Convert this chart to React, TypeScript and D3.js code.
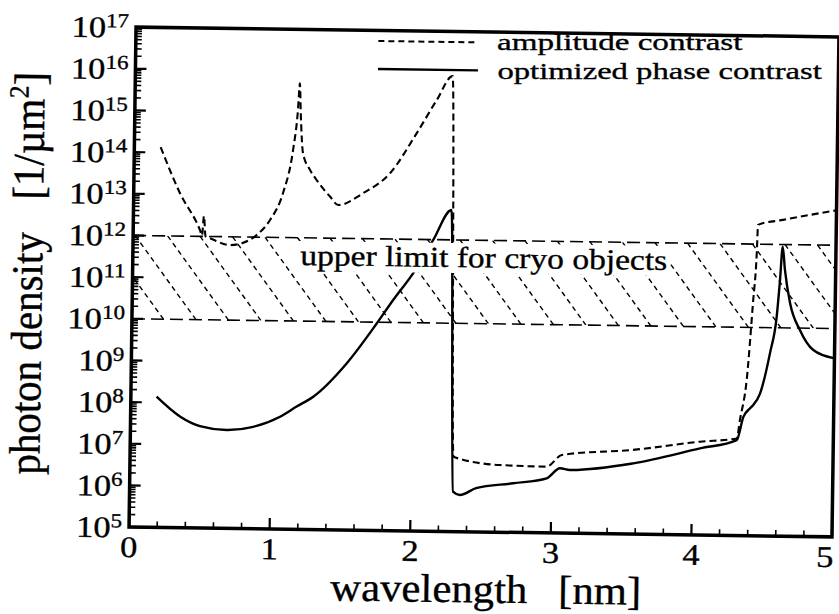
import React from 'react';
import * as d3 from 'd3';

// amplitude contrast (dashed)
const wavelengthAmp = [0.187, 0.329, 0.475, 0.49, 0.502, 0.515, 0.547, 0.69, 0.78, 0.878, 0.972, 1.062, 1.129, 1.16, 1.171, 1.18, 1.2, 1.251, 1.3, 1.396, 1.456, 1.631, 1.821, 2.006, 2.146, 2.257, 2.3, 2.347, 2.632, 2.964, 3.07, 3.576, 4.052, 4.313, 4.334, 4.378, 4.415, 4.437, 4.443, 4.62, 5.0];
const densityAmp = [1.35e14, 1.07e13, 1.41e12, 1.05e12, 3.1e12, 1.0e12, 9.1e11, 6.3e11, 7.2e11, 1.12e12, 2.6e12, 1.17e13, 1.26e14, 1.17e15, 5.1e15, 1.0e15, 1.07e14, 4.3e13, 2.45e13, 1.0e13, 6.3e12, 1.23e13, 3.8e13, 3.5e14, 2.24e15, 8.5e15, 6.3e6, 5.6e6, 4.1e6, 3.9e6, 7.5e6, 1.05e7, 1.74e7, 2.14e7, 6.0e7, 5.5e8, 3.9e10, 6.2e11, 2.9e12, 3.9e12, 6.9e12];

// optimized phase contrast (solid)
const wavelengthPhase = [0.183, 0.351, 0.494, 0.685, 0.873, 1.063, 1.18, 1.297, 1.531, 1.741, 1.857, 1.996, 2.135, 2.262, 2.3, 2.35, 2.464, 2.728, 2.965, 3.059, 3.13, 3.58, 4.053, 4.313, 4.358, 4.405, 4.427, 4.474, 4.541, 4.585, 4.605, 4.621, 4.639, 4.679, 4.752, 4.849, 4.992];
const densityPhase = [1.38e8, 4.7e7, 2.8e7, 2.3e7, 2.8e7, 5.0e7, 8.9e7, 1.55e8, 1.0e9, 9.3e9, 3.5e10, 1.55e11, 9.8e11, 5.2e12, 9.1e5, 7.6e5, 1.12e6, 1.51e6, 2.04e6, 3.6e6, 3.3e6, 5.0e6, 1.2e7, 1.95e7, 7.1e7, 1.15e8, 1.38e8, 2.6e8, 2.45e9, 1.86e10, 1.41e11, 8.9e11, 2.45e11, 3.9e10, 8.9e9, 3.0e9, 1.95e9];

const xTicks = [0, 1, 2, 3, 4, 5];
const xMinorTicks = [0.2, 0.4, 0.6, 0.8, 1.2, 1.4, 1.6, 1.8, 2.2, 2.4, 2.6, 2.8, 3.2, 3.4, 3.6, 3.8, 4.2, 4.4, 4.6, 4.8];
const yExponents = [5, 6, 7, 8, 9, 10, 11, 12, 13, 14, 15, 16, 17];
const bandLower = 1e10;
const bandUpper = 1e12;
const legendLabels = ['amplitude contrast', 'optimized phase contrast'];
const bandLabel = 'upper limit for cryo objects';
const xLabel = ['wavelength', '[nm]'];
const yLabel = ['photon density', '[1/µm', '2', ']'];

export default function App() {
  const W = 839, H = 614;
  const L = 132.5, R = 835.5, T = 32, B = 532;
  const x = d3.scaleLinear().domain([0, 5]).range([L, R]);
  const y = d3.scaleLog().domain([1e5, 1e17]).range([B, T]);
  const line = d3.line<[number, number]>().x(d => x(d[0])).y(d => y(d[1])).curve(d3.curveMonotoneX);
  const ampPath = line(wavelengthAmp.map((w, i) => [w, densityAmp[i]] as [number, number])) || '';
  const phasePath = line(wavelengthPhase.map((w, i) => [w, densityPhase[i]] as [number, number])) || '';

  const yMinor: number[] = [];
  for (let e = 5; e < 17; e++) for (let m = 2; m <= 9; m++) yMinor.push(m * Math.pow(10, e));

  const yTop = y(bandUpper), yBot = y(bandLower);
  const hatchTravel = 62, hatchGap = 32.5;
  const hatchStarts = d3.range(L + 2 - 3 * hatchGap, R + hatchGap, hatchGap);

  const font = '"Liberation Serif", "Times New Roman", Times, serif';
  const sx = 1.15;
  const ts = { stroke: '#000', strokeWidth: 0.35 };

  return (
    <svg width={W} height={H} style={{ position: 'absolute', left: 0, top: 0, background: '#fff' }} fontFamily={font}>
      <rect width={W} height={H} fill="#fff" />
      <defs>
        <clipPath id="bandClip"><rect x={L} y={yTop} width={R - L} height={yBot - yTop} /></clipPath>
        <clipPath id="plotClip"><rect x={L} y={T} width={R - L} height={B - T} /></clipPath>
      </defs>
      <g transform="rotate(0.8 484 282)">
        {/* band */}
        <g clipPath="url(#bandClip)">
          {hatchStarts.map((s, i) => (
            <line key={i} x1={s} y1={yTop} x2={s + hatchTravel} y2={yBot} stroke="#000" strokeWidth={1.4} strokeDasharray="5,4" />
          ))}
        </g>
        <line x1={L} x2={R} y1={yTop} y2={yTop} stroke="#000" strokeWidth={1.6} strokeDasharray="13,6" />
        <line x1={L} x2={R} y1={yBot} y2={yBot} stroke="#000" strokeWidth={1.6} strokeDasharray="13,6" />

        {/* curves */}
        <g clipPath="url(#plotClip)">
          <path d={ampPath} fill="none" stroke="#000" strokeWidth={2.1} strokeDasharray="7,4" />
          <path d={phasePath} fill="none" stroke="#000" strokeWidth={2.4} />
        </g>

        {/* band label */}
        <rect x={297} y={243.5} width={373} height={30} fill="#fff" />
        <text transform={`translate(300,267.5) scale(1.157,1)`} fontSize={29} {...ts}>{bandLabel}</text>

        {/* frame */}
        <rect x={L} y={T} width={R - L} height={B - T} fill="none" stroke="#000" strokeWidth={3.5} />

        {/* y ticks */}
        {yExponents.map(e => (
          <line key={'ym' + e} x1={L} x2={L + 11} y1={y(Math.pow(10, e))} y2={y(Math.pow(10, e))} stroke="#000" strokeWidth={2.2} />
        ))}
        {yMinor.map((v, i) => (
          <line key={'yn' + i} x1={L} x2={L + 6} y1={y(v)} y2={y(v)} stroke="#000" strokeWidth={1.6} />
        ))}
        {yExponents.map(e => (
          <text key={'yl' + e} transform={`translate(${L - 7},${y(Math.pow(10, e)) + 10.5}) scale(${sx},1)`} textAnchor="end" fontSize={30} {...ts}>
            10<tspan dy={-10} fontSize={20}>{e}</tspan>
          </text>
        ))}

        {/* x ticks */}
        {xTicks.map(t => (
          <line key={'xm' + t} x1={x(t)} x2={x(t)} y1={B} y2={B - 11} stroke="#000" strokeWidth={2.2} />
        ))}
        {xMinorTicks.map((t, i) => (
          <line key={'xn' + i} x1={x(t)} x2={x(t)} y1={B} y2={B - 6} stroke="#000" strokeWidth={1.6} />
        ))}
        {xTicks.map((t, i) => (
          <text key={'xl' + t} transform={`translate(${x(t) - (i === xTicks.length - 1 ? 7 : 0)},${B + 30}) scale(${sx},1)`} textAnchor="middle" fontSize={30} {...ts}>{t}</text>
        ))}

        {/* legend samples */}
        <line x1={375} x2={475} y1={42.5} y2={42.5} stroke="#000" strokeWidth={2} strokeDasharray="6,4" />
        <line x1={375} x2={475} y1={70.5} y2={70.5} stroke="#000" strokeWidth={2.3} />

        {/* axis labels */}
        <text transform={`translate(334.5,602.5) scale(1.07,1)`} fontSize={40} {...ts}>
          {xLabel[0]}<tspan x={213}>{xLabel[1]}</tspan>
        </text>
        <text transform={`translate(42,481) scale(1.07,1) rotate(-90)`} fontSize={41} {...ts}>
          {yLabel[0]}<tspan x={275}>{yLabel[1]}</tspan><tspan dy={-15} fontSize={26}>{yLabel[2]}</tspan><tspan dy={15}>{yLabel[3]}</tspan>
        </text>
      </g>

      {/* legend texts */}
      <text transform={`translate(497,49.5) scale(1.38,1)`} fontSize={24} {...ts}>{legendLabels[0]}</text>
      <text transform={`translate(497.5,78.5) scale(1.36,1)`} fontSize={24} {...ts}>{legendLabels[1]}</text>
    </svg>
  );
}
